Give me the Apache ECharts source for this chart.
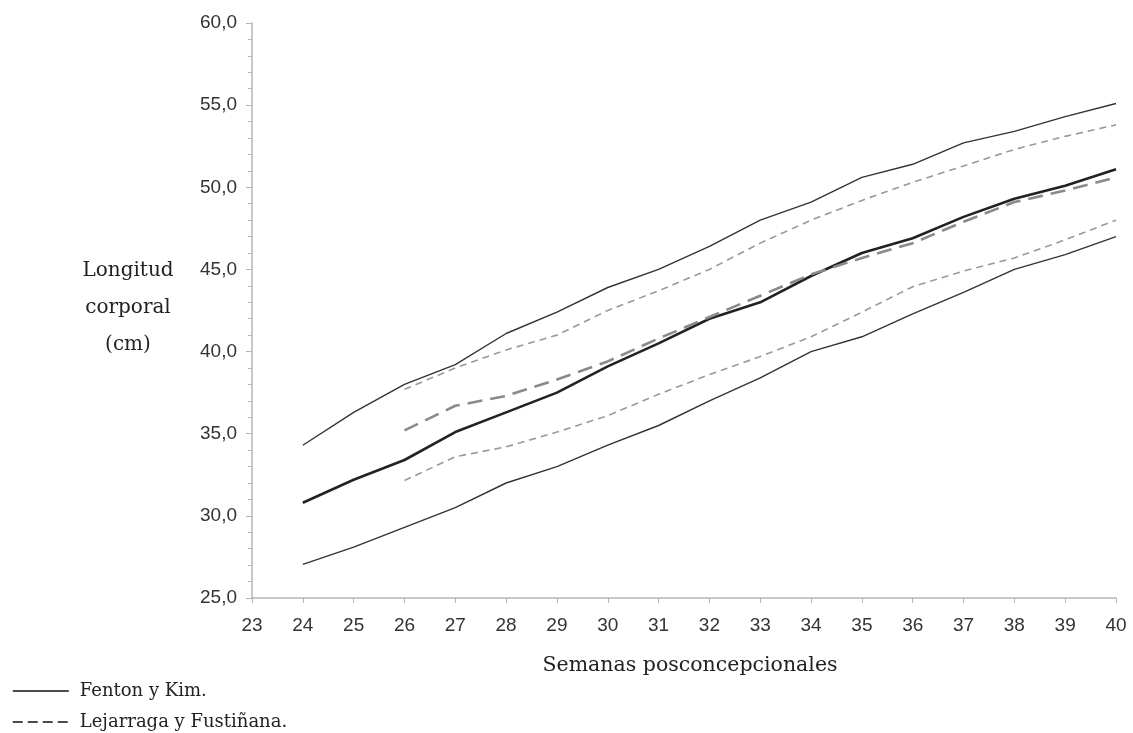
<!DOCTYPE html>
<html>
<head>
<meta charset="utf-8">
<script src="https://cdn.jsdelivr.net/npm/echarts@6/dist/echarts.min.js"></script>
<style>html,body{margin:0;padding:0;background:#fff;}#c{width:1133px;height:733px;}</style>
</head>
<body>
<div id="c"></div>
<script>
// Data
const fentonWeeks = [24,25,26,27,28,29,30,31,32,33,34,35,36,37,38,39,40];
const fentonP90 = [34.3,36.3,38.0,39.2,41.1,42.4,43.9,45.0,46.4,48.0,49.1,50.6,51.4,52.7,53.4,54.3,55.1];
const fentonP50 = [30.8,32.2,33.4,35.1,36.3,37.5,39.1,40.5,42.0,43.0,44.6,46.0,46.9,48.2,49.3,50.1,51.1];
const fentonP10 = [27.05,28.1,29.3,30.5,32.0,33.0,34.3,35.5,37.0,38.4,40.0,40.9,42.3,43.6,45.0,45.9,47.0];
const lejWeeks = [26,27,28,29,30,31,32,33,34,35,36,37,38,39,40];
const lejP90 = [37.7,39.0,40.1,41.0,42.5,43.7,45.0,46.6,48.0,49.2,50.3,51.3,52.3,53.1,53.8];
const lejP50 = [35.2,36.7,37.3,38.3,39.4,40.8,42.1,43.4,44.7,45.7,46.6,47.9,49.1,49.8,50.6];
const lejP10 = [32.15,33.6,34.2,35.1,36.1,37.4,38.6,39.7,40.9,42.4,43.95,44.9,45.7,46.8,48.0];
const legendNames = ['Fenton y Kim.', 'Lejarraga y Fustiñana.'];
const yAxisTitle = 'Longitud\ncorporal\n(cm)';
const xAxisTitle = 'Semanas posconcepcionales';

const pairs = (xs, ys) => xs.map((x, i) => [x, ys[i]]);
const serif = '"DejaVu Serif", "Liberation Serif", serif';
const sans = '"Liberation Sans", Arial, sans-serif';

function line(name, xs, ys, color, width, type) {
  return {
    name: name, type: 'line', data: pairs(xs, ys), symbol: 'none', smooth: false,
    lineStyle: { color: color, width: width, type: type },
    itemStyle: { color: color }, z: width > 2 ? 3 : 2, silent: true
  };
}

const chart = echarts.init(document.getElementById('c'));
chart.setOption({
  animation: false,
  backgroundColor: '#fff',
  grid: { left: 252, right: 17, top: 23, bottom: 135 },
  legend: {
    orient: 'vertical', left: 7, bottom: -3, itemWidth: 56, itemHeight: 14, itemGap: 13,
    selectedMode: false,
    textStyle: { fontFamily: serif, fontSize: 18, color: '#222', padding: [0, 0, 0, 6] },
    data: [
      { name: legendNames[0], itemStyle: { opacity: 0 }, lineStyle: { color: '#111', width: 1.5, type: 'solid' } },
      { name: legendNames[1], itemStyle: { opacity: 0 }, lineStyle: { color: '#111', width: 1.5, type: [10, 5] } }
    ]
  },
  xAxis: {
    type: 'value', min: 23, max: 40, interval: 1,
    name: xAxisTitle, nameLocation: 'middle', nameGap: 57,
    nameTextStyle: { fontFamily: serif, fontSize: 20.5, color: '#222', padding: [0, 0, 0, 12] },
    axisLine: { show: true, lineStyle: { color: '#b5b5b5', width: 1.5 } },
    axisTick: { show: true, length: 5, lineStyle: { color: '#b5b5b5' } },
    axisLabel: { fontFamily: sans, fontSize: 19, color: '#333', margin: 18 },
    splitLine: { show: false }
  },
  yAxis: {
    type: 'value', min: 25, max: 60, interval: 5,
    axisLine: { show: true, lineStyle: { color: '#b5b5b5', width: 1.5 } },
    axisTick: { show: true, length: 6, lineStyle: { color: '#b5b5b5' } },
    minorTick: { show: true, splitNumber: 5, length: 4, lineStyle: { color: '#b5b5b5' } },
    axisLabel: { fontFamily: sans, fontSize: 19, color: '#333', margin: 15,
      formatter: v => v.toFixed(1).replace('.', ',') },
    splitLine: { show: false }
  },
  graphic: [{
    type: 'text', x: 128, y: 252,
    style: { text: yAxisTitle, font: '20px ' + serif, fill: '#222', align: 'center', verticalAlign: 'top', lineHeight: 37 }
  }],
  series: [
    line(legendNames[0], fentonWeeks, fentonP90, '#333', 1.4, 'solid'),
    line(legendNames[0], fentonWeeks, fentonP50, '#222', 2.6, 'solid'),
    line(legendNames[0], fentonWeeks, fentonP10, '#333', 1.4, 'solid'),
    line(legendNames[1], lejWeeks, lejP90, '#999', 1.6, [7, 5]),
    line(legendNames[1], lejWeeks, lejP50, '#8a8a8a', 2.6, [15, 8]),
    line(legendNames[1], lejWeeks, lejP10, '#999', 1.6, [7, 5])
  ]
});
</script>
</body>
</html>
